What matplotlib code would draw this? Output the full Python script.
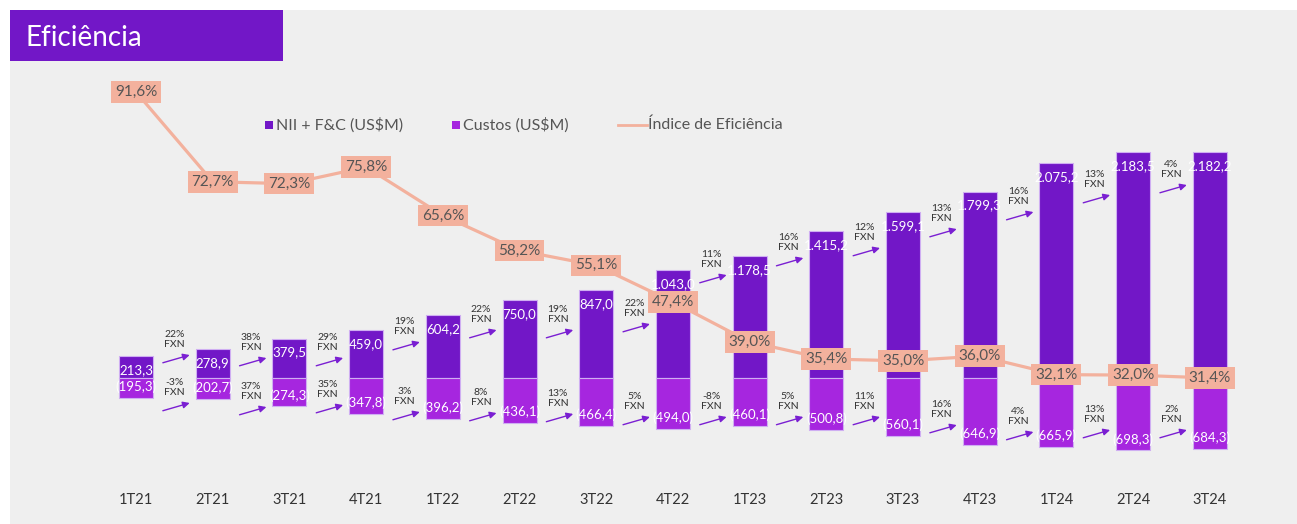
import matplotlib
matplotlib.use('Agg')
import matplotlib.pyplot as plt
from matplotlib.patches import Rectangle
from matplotlib.lines import Line2D

plt.rcParams['font.family'] = ['Lato', 'DejaVu Sans']

quarters = ['1T21', '2T21', '3T21', '4T21', '1T22', '2T22', '3T22', '4T22',
            '1T23', '2T23', '3T23', '4T23', '1T24', '2T24', '3T24']
nii = [213.3, 278.9, 379.5, 459.0, 604.2, 750.0, 847.0, 1043.0,
       1178.5, 1415.2, 1599.1, 1799.3, 2075.2, 2183.5, 2182.2]
costs = [195.3, 202.7, 274.3, 347.8, 396.2, 436.1, 466.4, 494.0,
         460.1, 500.8, 560.1, 646.9, 665.9, 698.3, 684.3]
efficiency = [91.6, 72.7, 72.3, 75.8, 65.6, 58.2, 55.1, 47.4,
              39.0, 35.4, 35.0, 36.0, 32.1, 32.0, 31.4]
fxn_nii = ['22%', '38%', '29%', '19%', '22%', '19%', '22%', '11%',
           '16%', '12%', '13%', '16%', '13%', '4%']
fxn_costs = ['-3%', '37%', '35%', '3%', '8%', '13%', '5%', '-8%',
             '5%', '11%', '16%', '4%', '13%', '2%']

# where the little growth arrows sit (arrow tip height, US$M scale)
arrow_up_y = [222, 193, 193, 347, 463, 463, 521, 994, 1158, 1255, 1438, 1602, 1766, 1863]
arrow_dn_y = [-241, -280, -261, -328, -338, -347, -376, -376, -376, -376, -454, -521, -502, -502]

C_NII = '#7217c7'
C_COST = '#a626df'
C_LINE = '#f3b19d'
C_ARROW = '#7a1fd2'


def br(v):
    s = '{:,.1f}'.format(v)
    return s.replace(',', 'X').replace('.', ',').replace('X', '.')


W, H = 1297, 524
fig = plt.figure(figsize=(W / 100, H / 100), dpi=100)
fig.patch.set_facecolor('white')
fig.patches.append(Rectangle((10 / W, 0), 1, 1 - 10 / H, transform=fig.transFigure,
                             fc='#efefef', ec='none', zorder=-10))
fig.patches.append(Rectangle((10 / W, 1 - 61 / H), 273 / W, 51 / H, transform=fig.transFigure,
                             fc=C_NII, ec='none', zorder=-5))
fig.text(26 / W, 1 - 38 / H, 'Eficiência', color='white', fontsize=20,
         va='center', ha='left', zorder=2)

ax = fig.add_axes([0, 0, 1, 1])
ax.set_facecolor('none')
ax.axis('off')
x0, dx = 136, 76.7
ax.set_xlim((0 - x0) / dx, (W - x0) / dx)
scale = 0.1036
ax.set_ylim((378 - H) / scale, 378 / scale)

xs = list(range(len(quarters)))
bw = 34 / dx
ax.bar(xs, nii, width=bw, color=C_NII, edgecolor='#cfaef2', linewidth=0.8, zorder=2)
ax.bar(xs, [-c for c in costs], width=bw, color=C_COST, edgecolor='#cfaef2', linewidth=0.8, zorder=2)

for i in xs:
    ax.annotate(br(nii[i]), (i, nii[i]), xytext=(0, -10), textcoords='offset points',
                ha='center', va='center', color='white', fontsize=9.5, zorder=3)
    ax.annotate('(' + br(costs[i]) + ')', (i, -costs[i]), xytext=(0, 8), textcoords='offset points',
                ha='center', va='center', color='white', fontsize=9.5, zorder=3)
    ax.text(i, 1 - 500 / H, quarters[i], transform=ax.get_xaxis_transform(),
            ha='center', va='center', fontsize=10.5, color='#333333')

for i in range(len(fxn_nii)):
    for lab, tip in ((fxn_nii[i], arrow_up_y[i]), (fxn_costs[i], arrow_dn_y[i])):
        ax.annotate('', xy=(i + 0.70, tip), xytext=(i + 0.35, tip - 75),
                    arrowprops=dict(arrowstyle='-|>', color=C_ARROW, lw=1.0,
                                    mutation_scale=10, shrinkA=0, shrinkB=0), zorder=3)
        ax.annotate(lab + '\nFXN', (i + 0.5, tip), xytext=(0, 4), textcoords='offset points',
                    ha='center', va='bottom', fontsize=7.5, color='#333333', linespacing=1.15)

ax2 = ax.twinx()
ax2.axis('off')
ax2.set_ylim(91.6 - (H - 92) / 4.75, 91.6 + 92 / 4.75)
ax2.plot(xs, efficiency, color=C_LINE, lw=2.3, zorder=4)
for i in xs:
    ax2.text(i, efficiency[i], '{:.1f}%'.format(efficiency[i]).replace('.', ','),
             ha='center', va='center', fontsize=11, color='#555555', zorder=5,
             bbox=dict(boxstyle='square,pad=0.25', fc=C_LINE, ec='none'))

# legend drawn by hand
ly = 1 - 125 / H
fig.patches.append(Rectangle((265 / W, ly - 4 / H), 8 / W, 8 / H, transform=fig.transFigure,
                             fc=C_NII, ec='none'))
fig.text(276 / W, ly, 'NII + F&C (US$M)', fontsize=11.5, color='#555555', va='center')
fig.patches.append(Rectangle((452 / W, ly - 4 / H), 8 / W, 8 / H, transform=fig.transFigure,
                             fc=C_COST, ec='none'))
fig.text(463 / W, ly, 'Custos (US$M)', fontsize=11.5, color='#555555', va='center')
fig.lines.append(Line2D([618 / W, 647 / W], [ly, ly], transform=fig.transFigure,
                        color=C_LINE, lw=2))
fig.text(648 / W, ly, 'Índice de Eficiência', fontsize=11.5, color='#555555', va='center')

fig.savefig('out.png', dpi=100)
